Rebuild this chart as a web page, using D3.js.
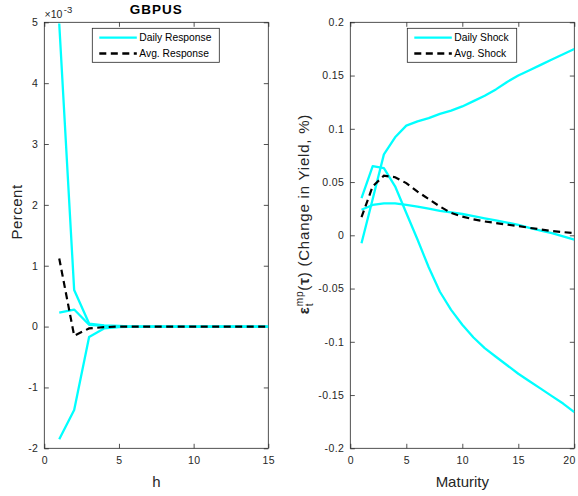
<!DOCTYPE html>
<html>
<head>
<meta charset="utf-8">
<script src="https://cdn.jsdelivr.net/npm/d3@7"></script>
<style>
  html, body { margin: 0; padding: 0; background: #fff; }
  svg { display: block; }
  text { font-family: "Liberation Sans", Arial, Helvetica, sans-serif; }
</style>
</head>
<body>
<svg id="chart" width="578" height="496"></svg>
<script>
// ---------------- DATA ----------------
// Left panel: horizons and responses (values in units of 1e-3 percent)
const horizons = d3.range(1, 16);
const dailyResponseA = [4.98, 0.60, 0.05, 0.02, 0.01, 0, 0, 0, 0, 0, 0, 0, 0, 0, 0];
const dailyResponseB = [0.23, 0.28, 0.03, 0.01, 0, 0, 0, 0, 0, 0, 0, 0, 0, 0, 0];
const dailyResponseC = [-1.85, -1.37, -0.17, -0.03, -0.01, 0, 0, 0, 0, 0, 0, 0, 0, 0, 0];
const avgResponse    = [1.12, -0.15, -0.03, -0.01, 0, 0, 0, 0, 0, 0, 0, 0, 0, 0, 0];
const leftXTicks = [0, 5, 10, 15];
const leftYTicks = [-2, -1, 0, 1, 2, 3, 4, 5];

// Right panel: maturities and shocks (percent)
const maturities = d3.range(1, 21);
const dailyShockA = [-0.0075, 0.034, 0.076, 0.092, 0.103, 0.107, 0.110, 0.114, 0.117, 0.121,
                     0.126, 0.131, 0.137, 0.144, 0.150, 0.155, 0.160, 0.165, 0.170, 0.175];
const dailyShockB = [0.035, 0.065, 0.063, 0.046, 0.021, -0.004, -0.030, -0.053, -0.070, -0.084,
                     -0.096, -0.106, -0.114, -0.122, -0.130, -0.137, -0.144, -0.151, -0.158, -0.166];
const dailyShockC = [0.024, 0.0285, 0.030, 0.030, 0.0285, 0.027, 0.025, 0.023, 0.0215, 0.020,
                     0.018, 0.016, 0.014, 0.012, 0.0097, 0.007, 0.0045, 0.002, -0.001, -0.004];
const avgShock    = [0.017, 0.046, 0.056, 0.0545, 0.049, 0.041, 0.034, 0.027, 0.021, 0.0175,
                     0.015, 0.013, 0.0115, 0.010, 0.0087, 0.007, 0.0055, 0.004, 0.003, 0.002];
const rightXTicks = [0, 5, 10, 15, 20];
const rightYTicks = [-0.2, -0.15, -0.1, -0.05, 0, 0.05, 0.1, 0.15, 0.2];

const titleText = "GBPUS";
const leftLegend = ["Daily Response", "Avg. Response"];
const rightLegend = ["Daily Shock", "Avg. Shock"];

// ---------------- DRAWING ----------------
const svg = d3.select("#chart");
const AX = "#262626";
const CYAN = "#00ffff";
const TOP = 22.3, BOTTOM = 448.3;

function drawPanel(opts) {
  const g = svg.append("g");
  const x = d3.scaleLinear().domain(opts.xDomain).range([opts.left, opts.right]);
  const y = d3.scaleLinear().domain(opts.yDomain).range([BOTTOM, TOP]);
  const clipId = "clip" + opts.id;
  svg.append("clipPath").attr("id", clipId).append("rect")
    .attr("x", opts.left).attr("y", TOP).attr("width", opts.right - opts.left).attr("height", BOTTOM - TOP);

  g.append("rect").attr("x", opts.left).attr("y", TOP)
    .attr("width", opts.right - opts.left).attr("height", BOTTOM - TOP).attr("fill", "#fff");

  const tl = 4.5;
  const styleAxis = sel => {
    sel.select(".domain").remove();
    sel.selectAll(".tick line").attr("stroke", AX).attr("stroke-width", 0.8);
    sel.selectAll(".tick text").attr("fill", AX).style("font-size", "10.5px").style("letter-spacing", "0.4px");
  };
  const xAxisG = g.append("g").attr("transform", `translate(0,${BOTTOM})`)
    .call(d3.axisBottom(x).tickValues(opts.xTicks).tickSizeInner(-tl).tickSizeOuter(0).tickPadding(8).tickFormat(d => String(d)))
    .call(styleAxis);
  // keep the last x tick label inside the window
  xAxisG.selectAll(".tick text").each(function (d) {
    const px = x(d);
    if (px > 570) d3.select(this).attr("dx", -(px - 570) - 1);
  });
  g.append("g").attr("transform", `translate(0,${TOP})`)
    .call(d3.axisTop(x).tickValues(opts.xTicks).tickSizeInner(-tl).tickSizeOuter(0).tickFormat(""))
    .call(styleAxis);
  g.append("g").attr("transform", `translate(${opts.left},0)`)
    .call(d3.axisLeft(y).tickValues(opts.yTicks).tickSizeInner(-tl).tickSizeOuter(0).tickPadding(6).tickFormat(opts.yFormat))
    .call(styleAxis);
  g.append("g").attr("transform", `translate(${opts.right},0)`)
    .call(d3.axisRight(y).tickValues(opts.yTicks).tickSizeInner(-tl).tickSizeOuter(0).tickFormat(""))
    .call(styleAxis);
  g.selectAll("g").attr("font-family", null).attr("font-size", null);

  g.append("rect").attr("x", opts.left).attr("y", TOP)
    .attr("width", opts.right - opts.left).attr("height", BOTTOM - TOP)
    .attr("fill", "none").attr("stroke", AX).attr("stroke-width", 0.8);

  const line = d3.line().x(d => x(d[0])).y(d => y(d[1]));
  const lines = g.append("g").attr("clip-path", `url(#${clipId})`);
  opts.daily.forEach(vals => {
    lines.append("path").datum(opts.xs.map((v, i) => [v, vals[i]]))
      .attr("d", line).attr("fill", "none").attr("stroke", CYAN).attr("stroke-width", 2.3)
      .attr("stroke-linejoin", "round");
  });
  lines.append("path").datum(opts.xs.map((v, i) => [v, opts.avg[i]]))
    .attr("d", line).attr("fill", "none").attr("stroke", "#000").attr("stroke-width", 2.2)
    .attr("stroke-dasharray", "7,4.5");

  const lg = g.append("g");
  lg.append("rect").attr("x", opts.legX).attr("y", 28.3).attr("width", opts.legW).attr("height", 34)
    .attr("fill", "#fff").attr("stroke", AX).attr("stroke-width", 0.8);
  const rows = [{ y: 37.7, color: CYAN, dash: null, label: opts.legend[0] },
                { y: 53.5, color: "#000", dash: "7,4.5", label: opts.legend[1] }];
  rows.forEach(r => {
    lg.append("line").attr("x1", opts.legX + 7).attr("x2", opts.legX + 44.5)
      .attr("y1", r.y).attr("y2", r.y).attr("stroke", r.color).attr("stroke-width", 2.3)
      .attr("stroke-dasharray", r.dash);
    lg.append("text").attr("x", opts.legX + 47).attr("y", r.y).attr("dy", "0.35em")
      .attr("fill", "#000").style("font-size", "10.3px").text(r.label);
  });

  g.append("text").attr("x", (opts.left + opts.right) / 2).attr("y", 487)
    .attr("text-anchor", "middle").attr("fill", AX).style("font-size", "15px").text(opts.xLabel);
  return { g, x, y };
}

drawPanel({
  id: "L", left: 44.3, right: 268.3, xDomain: [0, 15], yDomain: [-2, 5],
  xTicks: leftXTicks, yTicks: leftYTicks, yFormat: d => String(d),
  xs: horizons, daily: [dailyResponseA, dailyResponseB, dailyResponseC], avg: avgResponse,
  legX: 92.3, legW: 127, legend: leftLegend, xLabel: "h"
});
drawPanel({
  id: "R", left: 350.3, right: 574.3, xDomain: [0, 20], yDomain: [-0.2, 0.2],
  xTicks: rightXTicks, yTicks: rightYTicks, yFormat: d => String(+d.toFixed(2)),
  xs: maturities, daily: [dailyShockA, dailyShockB, dailyShockC], avg: avgShock,
  legX: 407.3, legW: 109.4, legend: rightLegend, xLabel: "Maturity"
});

// exponent label
const ex = svg.append("text").attr("x", 44.5).attr("y", 17.5).attr("fill", AX).style("font-size", "10.5px");
ex.append("tspan").text("\u00d710");
ex.append("tspan").attr("dx", 1.5).attr("dy", -5).style("font-size", "9.5px").text("-3");

// title
svg.append("text").attr("x", 156.3).attr("y", 13.5).attr("text-anchor", "middle")
  .attr("fill", "#000").style("font-size", "13.5px").style("font-weight", "bold")
  .style("letter-spacing", "1px").text(titleText);

// y labels
svg.append("text").attr("transform", "translate(21.5,212) rotate(-90)")
  .attr("text-anchor", "middle").attr("fill", AX).style("font-size", "15px")
  .style("letter-spacing", "0.5px").text("Percent");

const yl = svg.append("text").attr("transform", "translate(309,214) rotate(-90)")
  .attr("text-anchor", "middle").attr("fill", AX).style("font-size", "15px")
  .style("letter-spacing", "0.8px");
yl.append("tspan").style("font-weight", "bold").text("\u03b5");
yl.append("tspan").attr("dy", -6).style("font-size", "10px").text("mp");
yl.append("tspan").attr("dx", -15.5).attr("dy", 10).style("font-size", "10px").text("t");
yl.append("tspan").attr("dx", 12).attr("dy", -4).text("(");
yl.append("tspan").style("font-weight", "bold").text("\u03c4");
yl.append("tspan").text(") (Change in Yield, %)");
</script>
</body>
</html>
